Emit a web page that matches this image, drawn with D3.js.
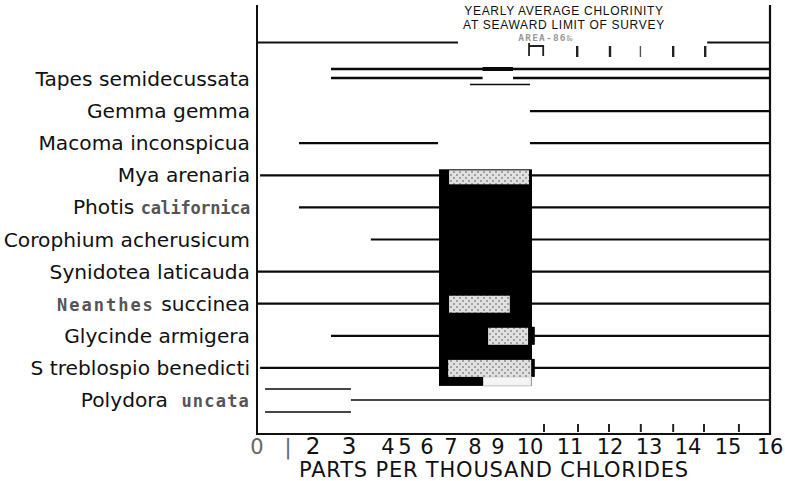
<!DOCTYPE html>
<html><head><meta charset="utf-8">
<script src="https://cdn.jsdelivr.net/npm/d3@7"></script>
<style>body{margin:0;background:#fff}svg{display:block}</style>
</head><body><svg id="c" width="785" height="481"></svg>
<script>
// ---------- data ----------
const species = ["Tapes semidecussata","Gemma gemma","Macoma inconspicua","Mya arenaria","Photis californica","Corophium acherusicum","Synidotea laticauda","Neanthes succinea","Glycinde armigera","S treblospio benedicti","Polydora uncata"];
const grayWords = ["californica","Neanthes","uncata"];
const tickValues = [0,1,2,3,4,5,6,7,8,9,10,11,12,13,14,15,16];
const tickLabels = ["0","|","2","3","4","5","6","7","8","9","10","11","12","13","14","15","16"];
// [species, from, to, lane]
const rangeLines = [
  ["Tapes semidecussata", 2.5, 16, "upper"],
  ["Tapes semidecussata", 8.33, 9.47, "upperBold"],
  ["Tapes semidecussata", 2.5, 8.33, "lower"],
  ["Tapes semidecussata", 9.47, 16, "lower"],
  ["Tapes semidecussata", 7.79, 10.0, "under"],
  ["Gemma gemma", 10.0, 16, "main"],
  ["Macoma inconspicua", 1.44, 6.46, "main"],
  ["Macoma inconspicua", 10.0, 16, "main"],
  ["Mya arenaria", 0.1, 16, "main"],
  ["Photis californica", 1.44, 16, "main"],
  ["Corophium acherusicum", 3.56, 16, "main"],
  ["Synidotea laticauda", 0, 16, "main"],
  ["Neanthes succinea", 0, 16, "main"],
  ["Glycinde armigera", 2.5, 16, "main"],
  ["S treblospio benedicti", 0.1, 16, "main"],
  ["Polydora uncata", 0.26, 3.05, "upperThin"],
  ["Polydora uncata", 0.26, 3.05, "lowerThin"],
  ["Polydora uncata", 3.05, 16, "thin"]
];
const blockSpan = [6.5, 10.05];
const blockRows = ["Mya arenaria", "S treblospio benedicti"];
const blockBumps = [["Glycinde armigera", 10.12], ["S treblospio benedicti", 10.12]];
const hatchBoxes = [
  ["Mya arenaria", 6.92, 9.97],
  ["Neanthes succinea", 6.92, 9.37],
  ["Glycinde armigera", 8.57, 9.94],
  ["S treblospio benedicti", 6.88, 10.03]
];
const openBox = ["S treblospio benedicti", 8.37, 10.03];
const topBorderGap = [7.29, 14.48];
const topBracket = [9.97, 10.33];
const topMarks = [11.18, 12.0, 12.78, 13.62, 14.43];
const bottomMarks = [10.35, 11.2, 11.975, 12.79, 13.62, 14.4, 15.26];
const titleLines = ["YEARLY AVERAGE CHLORINITY", "AT SEAWARD LIMIT OF SURVEY"];
const areaNote = "AREA-86‰";
const xTitle = "PARTS PER THOUSAND CHLORIDES";

// ---------- layout ----------
const xStops = [257, 288, 313, 349, 388, 405, 427, 451, 475, 498, 530, 570, 610, 649, 688, 728, 770];
const x = d3.scaleLinear().domain(tickValues).range(xStops);
const y = d3.scalePoint().domain(species).range([79, 400]);
const frameTop = 5, frameBottom = 434;
const lanes = {
  main: {dy: 0, w: 2.2}, upper: {dy: -10, w: 2.5}, upperBold: {dy: -10, w: 4},
  lower: {dy: -1, w: 2.5}, under: {dy: 5.5, w: 1.6},
  upperThin: {dy: -11, w: 1.4}, lowerThin: {dy: 12, w: 1.4}, thin: {dy: 0, w: 1.3}
};

const svg = d3.select("#c");
const defs = svg.append("defs");
const pat = defs.append("pattern").attr("id", "hatch").attr("patternUnits", "userSpaceOnUse")
  .attr("width", 6).attr("height", 6);
pat.append("rect").attr("width", 6).attr("height", 6).attr("fill", "#e0e0e0");
pat.append("rect").attr("x", 0).attr("y", 0).attr("width", 2).attr("height", 2).attr("fill", "#a0a0a0");
pat.append("rect").attr("x", 3).attr("y", 3).attr("width", 2).attr("height", 2).attr("fill", "#a0a0a0");

// frame
const g = svg.append("g");
g.append("line").attr("x1", x(0)).attr("x2", x(0)).attr("y1", frameTop).attr("y2", frameBottom + 1)
  .attr("stroke", "#111").attr("stroke-width", 2);
g.append("line").attr("x1", x(16)).attr("x2", x(16)).attr("y1", frameTop).attr("y2", frameBottom + 1)
  .attr("stroke", "#111").attr("stroke-width", 2.2);
g.append("line").attr("x1", x(0)).attr("x2", x(16)).attr("y1", frameBottom).attr("y2", frameBottom)
  .attr("stroke", "#111").attr("stroke-width", 2);
g.selectAll(".tb").data([[0, topBorderGap[0]], [topBorderGap[1], 16]]).join("line")
  .attr("x1", d => x(d[0])).attr("x2", d => x(d[1])).attr("y1", 42.5).attr("y2", 42.5)
  .attr("stroke", "#111").attr("stroke-width", 2);

// range lines
g.selectAll(".rl").data(rangeLines).join("line")
  .attr("x1", d => x(d[1])).attr("x2", d => x(d[2]))
  .attr("y1", d => y(d[0]) + lanes[d[3]].dy).attr("y2", d => y(d[0]) + lanes[d[3]].dy)
  .attr("stroke", "#0a0a0a").attr("stroke-width", d => lanes[d[3]].w);

// black block
const bTop = y(blockRows[0]) - 6, bBot = y(blockRows[1]) + 18;
g.append("rect").attr("x", x(blockSpan[0])).attr("y", bTop)
  .attr("width", x(blockSpan[1]) - x(blockSpan[0])).attr("height", bBot - bTop).attr("fill", "#000");
g.selectAll(".bump").data(blockBumps).join("rect")
  .attr("x", x(blockSpan[0])).attr("y", d => y(d[0]) - 9)
  .attr("width", d => x(d[1]) - x(blockSpan[0])).attr("height", 18).attr("fill", "#000");
// open box under Streblospio
g.append("rect").attr("x", x(openBox[1])).attr("y", y(openBox[0]) + 9)
  .attr("width", x(openBox[2]) - x(openBox[1])).attr("height", bBot - y(openBox[0]) - 9)
  .attr("fill", "#f4f4f4").attr("stroke", "#ccc").attr("stroke-width", 1);
// hatched boxes
g.selectAll(".hb").data(hatchBoxes).join("rect")
  .attr("x", d => x(d[1])).attr("width", d => x(d[2]) - x(d[1]))
  .attr("y", d => Math.max(y(d[0]) - 8, bTop + 1))
  .attr("height", d => y(d[0]) + 9 - Math.max(y(d[0]) - 8, bTop + 1))
  .attr("fill", "url(#hatch)");

// top marks
g.append("path")
  .attr("d", `M${x(topBracket[0])},43 V56 M${x(topBracket[0])},46 H${x(topBracket[1])} V56`)
  .attr("fill", "none").attr("stroke", "#222").attr("stroke-width", 1.8);
g.selectAll(".tm").data(topMarks).join("line")
  .attr("x1", d => x(d)).attr("x2", d => x(d)).attr("y1", 46).attr("y2", 57)
  .attr("stroke", (d, i) => i === 2 ? "#555" : "#222").attr("stroke-width", (d, i) => i === 2 ? 1.4 : 2.4);
g.selectAll(".bm").data(bottomMarks).join("line")
  .attr("x1", d => x(d)).attr("x2", d => x(d)).attr("y1", 424).attr("y2", 432)
  .attr("stroke", "#222").attr("stroke-width", 2);

// title
g.selectAll(".tt").data(titleLines).join("text")
  .attr("x", 564).attr("y", (d, i) => 15 + i * 13.6)
  .attr("text-anchor", "middle").attr("font-family", "Liberation Sans, Arial, sans-serif")
  .attr("font-size", 12).attr("letter-spacing", 0.7).attr("fill", "#111").text(d => d);
g.append("text").attr("x", 546).attr("y", 41).attr("text-anchor", "middle")
  .attr("font-family", "DejaVu Sans Mono, monospace").attr("font-size", 9.5).attr("font-weight", "bold")
  .attr("letter-spacing", 1.2).attr("fill", "#999").text(areaNote);

// species labels
const lab = g.selectAll(".sl").data(species).join("text")
  .attr("x", 250).attr("y", d => y(d) + 7).attr("text-anchor", "end")
  .attr("font-family", "DejaVu Sans, Verdana, sans-serif").attr("font-size", 20.2).attr("fill", "#111");
lab.each(function(d) {
  const t = d3.select(this);
  const words = d.split(" ");
  words.forEach((w, i) => {
    const gray = grayWords.includes(w);
    const s = t.append("tspan").text(w);
    if (gray) {
      s.attr("font-family", "DejaVu Sans Mono, monospace").attr("font-weight", "bold")
        .attr("font-size", 17).attr("fill", "#555")
        .attr("letter-spacing", w === "Neanthes" ? 2 : (w === "uncata" ? 1.2 : -0.3));
      if (w === "uncata") s.attr("dx", 7);
    }
    if (i < words.length - 1) t.append("tspan").text(" ");
  });
});

// x tick labels
g.selectAll(".xl").data(tickValues).join("text")
  .attr("x", d => x(d)).attr("y", 454).attr("text-anchor", "middle")
  .attr("font-family", "DejaVu Sans, Verdana, sans-serif")
  .attr("font-size", (d, i) => (tickLabels[i] === "2" || tickLabels[i] === "3") ? 23 : 21)
  .attr("fill", (d, i) => i < 2 ? "#666" : "#111")
  .text((d, i) => tickLabels[i]);
g.append("text").attr("x", 494).attr("y", 477).attr("text-anchor", "middle")
  .attr("font-family", "DejaVu Sans, Verdana, sans-serif").attr("font-size", 21)
  .attr("letter-spacing", 0.8).attr("fill", "#111")
  .text(xTitle);
</script></body></html>
